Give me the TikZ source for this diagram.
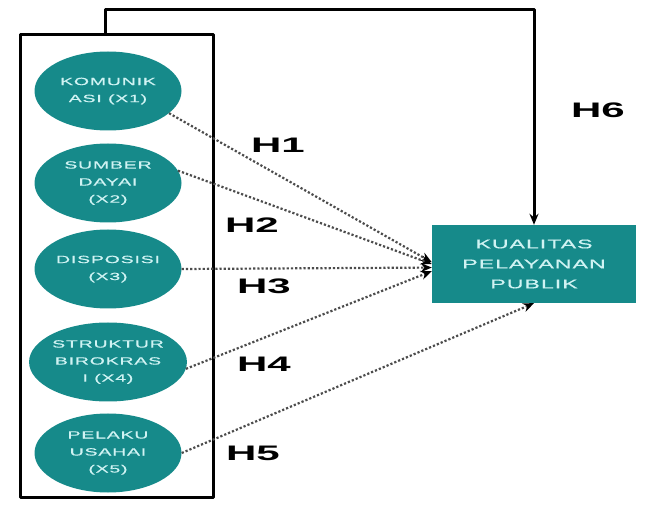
\documentclass[tikz,border=0pt]{standalone}
\usepackage{fontspec}
\usetikzlibrary{shapes.geometric,arrows.meta}
\newfontfamily\widefont[FakeStretch=1.85,LetterSpace=8,FakeBold=0.6]{Liberation Sans}
\newfontfamily\hfont[FakeStretch=2]{Liberation Sans}
\definecolor{tealfill}{RGB}{22,138,138}
\definecolor{paletext}{RGB}{208,243,243}
\begin{document}
\begin{tikzpicture}[x=1pt, y=1pt, line join=round, >={Stealth[length=11pt,width=9pt,color=black]},
		var/.style={ellipse, fill=tealfill, minimum width=147pt, minimum height=79pt, inner sep=0pt, align=center, text=paletext, font=\widefont\fontsize{10.5}{17}\selectfont},
		target/.style={rectangle, fill=tealfill, minimum width=204pt, minimum height=78pt, inner sep=0pt, align=center, text=paletext, font=\widefont\fontsize{12.5}{20}\selectfont},
		frame/.style={draw, line width=3pt, minimum width=193pt, minimum height=462pt, inner sep=0pt},
		dep/.style={dotted, line width=2.2pt, draw=black!70},
		link/.style={line width=3pt},
		hyp/.style={font=\hfont\bfseries\fontsize{21}{21}\selectfont}]
			\useasboundingbox (0,0) rectangle (670,504);
			\node[frame] (frame) at (116.5,238) {};
			\node[var] (x1) at (108,413) {KOMUNIK\\ASI (X1)};
			\node[var] (x2) at (108,321) {SUMBER\\DAYAI\\(X2)};
			\node[var] (x3) at (108,235) {DISPOSISI\\(X3)};
			\node[var] (x4) at (108,142) {STRUKTUR\\BIROKRAS\\I (X4)};
			\node[var] (x5) at (108,51) {PELAKU\\USAHAI\\(X5)};
			\node[target] (kp) at (534,240) {KUALITAS\\PELAYANAN\\PUBLIK};
			\draw[dep,->] (x1.-20) -- (kp.179);
			\draw[dep,->] (x2.10) -- (kp.180);
			\draw[dep,->] (x3.east) -- (kp.182);
			\draw[dep,->] (x4.-5) -- (kp.184);
			\draw[dep,->] (x5.east) -- (kp.south);
			\coordinate (tap) at (105,469);
			\draw[link,->] (tap) -- ++(0,25) -| (kp.north);
			\node[hyp] (h1) at (278,359) {H1};
			\node[hyp] (h2) at (252,279) {H2};
			\node[hyp] (h3) at (264,218) {H3};
			\node[hyp] (h4) at (264,140) {H4};
			\node[hyp] (h5) at (253,51) {H5};
			\node[hyp] (h6) at (598,394) {H6};
		\end{tikzpicture}
\end{document}
